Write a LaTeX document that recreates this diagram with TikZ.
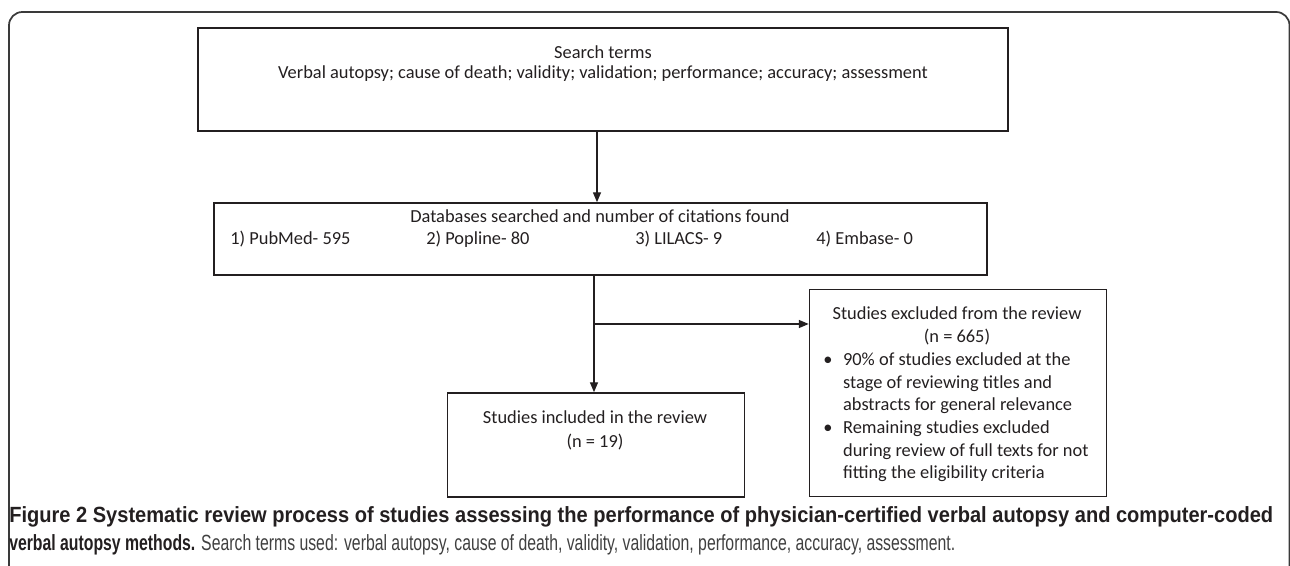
\documentclass[tikz,border=0pt]{standalone}
\usepackage{fontspec}
\usepackage{graphicx}
\setmainfont{Carlito}
\newfontfamily\capfont{Liberation Sans}
\usetikzlibrary{arrows.meta,positioning}
\definecolor{inkgray}{HTML}{231F20}
\definecolor{framegray}{HTML}{3A3A3A}
\definecolor{capgray}{HTML}{404040}

\begin{document}
\begin{tikzpicture}[x=0.75pt, y=-0.75pt, color=inkgray,
    box/.style={rectangle, draw=inkgray, line width=1.1pt, inner sep=0pt},
    box text/.style={inner sep=0pt, align=center, font=\fontsize{13.8}{17}\selectfont},
    flow/.style={-{Triangle[length=7.5pt, width=6pt]}, line width=1.1pt}]

    \useasboundingbox (0,0) rectangle (1290,566);
    \clip (0,0) rectangle (1290,566);

    % outer frame
    \draw[framegray, line width=1.3pt, rounded corners=10pt]
        (9,600) -- (9,12) -- (1289.5,12) -- (1289.5,600);

    % boxes
    \node[box, minimum width=607.5pt, minimum height=77.25pt] (search) at (603,79.5) {};
    \node[box, minimum width=579.75pt, minimum height=54pt] (db) at (600.5,239) {};
    \node[box, minimum width=222.75pt, minimum height=78pt] (incl) at (596,445) {};
    \node[box, minimum width=222.75pt, minimum height=155.25pt] (excl) at (958,393) {};

    % box texts
    \node[box text, anchor=north, font=\fontsize{13.8}{15.5}\selectfont] (searchtxt) at (603,45)
        {Search terms\\Verbal autopsy; cause of death; validity; validation; performance; accuracy; assessment};
    \node[box text] (dbtitle) at (600,216) {Databases searched and number of citations found};
    \node[box text, anchor=base west] (pubmed) at (230,245) {1) PubMed- 595};
    \node[box text, anchor=base west] (popline) at (426,245) {2) Popline- 80};
    \node[box text, anchor=base west] (lilacs) at (635,245) {3) LILACS- 9};
    \node[box text, anchor=base west] (embase) at (816,245) {4) Embase- 0};
    \node[box text, anchor=north, font=\fontsize{13.8}{18}\selectfont] (incltxt) at (595,410.5)
        {Studies included in the review\\(n = 19)};
    \node[box text, anchor=north] (excltxt) at (957,306.5) {Studies excluded from the review\\(n = 665)};
    \node[box text, anchor=north west, align=left] (exclist) at (823,349.5)
        {\begin{tabular}{@{}c@{\hspace{8pt}}l@{}}
            \textbullet & 90\% of studies excluded at the\\
                        & stage of reviewing titles and\\
                        & abstracts for general relevance\\
            \textbullet & Remaining studies excluded\\
                        & during review of full texts for not\\
                        & fitting the eligibility criteria
         \end{tabular}};

    % connectors
    \coordinate (split) at (594,324);
    \draw[flow] ([xshift=-4.5pt]search.south) -- ([xshift=-4.5pt]search.south |- db.north);
    \draw[line width=1.1pt] (db.south -| split) -- (split);
    \draw[flow] (split) -- (split |- incl.north);
    \draw[flow] (split) -- (split -| excl.west);

    % caption
    \node[anchor=west, inner sep=0pt] (capone) at (9,517)
        {\resizebox{948pt}{\height}{\capfont\fontsize{16.5}{19}\selectfont\bfseries Figure 2 Systematic review process of studies assessing the performance of physician-certified verbal autopsy and computer-coded}};
    \node[anchor=west, inner sep=0pt] (captwo) at (9,545)
        {\resizebox{709.5pt}{\height}{\capfont\fontsize{16.5}{19}\selectfont\textbf{verbal autopsy methods.} \color{capgray}Search terms used: verbal autopsy, cause of death, validity, validation, performance, accuracy, assessment.}};

\end{tikzpicture}
\end{document}
